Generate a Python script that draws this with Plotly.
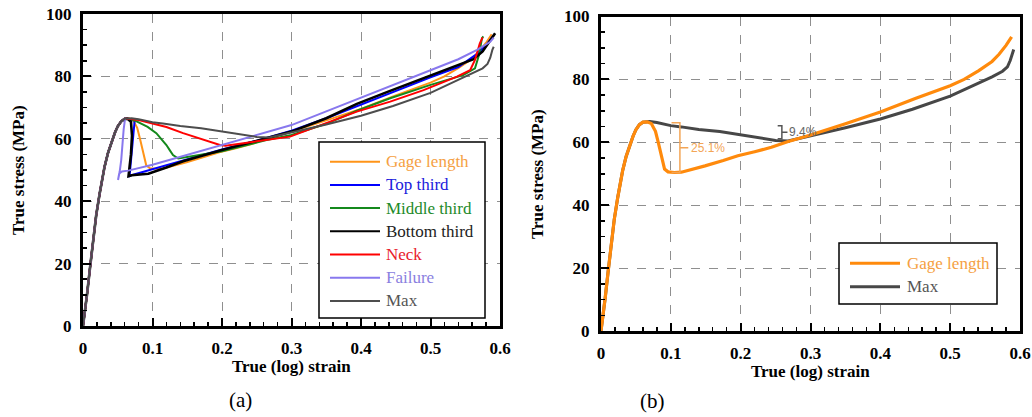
import plotly.graph_objects as go

# ---------------- data ----------------
# shared elastic branch (true strain, true stress MPa)
elastic_strain = [0.0, 0.003, 0.006, 0.010, 0.014, 0.019, 0.024, 0.031, 0.036, 0.041, 0.046, 0.050, 0.055, 0.060]
elastic_stress = [0.0, 4.5, 10.5, 18.5, 27.0, 35.5, 42.5, 51.0, 55.5, 59.0, 62.0, 64.0, 65.6, 66.4]

gage_post_strain = [0.066, 0.072, 0.078, 0.082, 0.0867, 0.091, 0.096, 0.105, 0.115, 0.13, 0.149, 0.175, 0.196,
                    0.22, 0.244, 0.267, 0.30, 0.35, 0.40, 0.45, 0.50, 0.52, 0.541, 0.56, 0.57, 0.58, 0.588]
gage_post_stress = [66.5, 66.0, 63.5, 60.0, 55.0, 51.5, 50.6, 50.4, 50.5, 51.3, 52.5, 54.2, 55.7,
                    57.0, 58.4, 60.2, 62.3, 65.9, 69.6, 73.9, 78.0, 80.0, 82.8, 85.7, 88.0, 90.8, 93.5]

top_post_strain = [0.064, 0.0743, 0.072, 0.0695, 0.0675, 0.067, 0.072, 0.10, 0.15, 0.20, 0.25, 0.30, 0.35,
                   0.40, 0.45, 0.50, 0.54, 0.567, 0.58, 0.592]
top_post_stress = [66.5, 65.8, 59.6, 53.2, 49.5, 48.0, 48.5, 50.3, 53.4, 56.6, 59.4, 62.6, 66.6,
                   71.0, 75.2, 79.7, 83.0, 87.2, 90.0, 93.5]

middle_post_strain = [0.066, 0.075, 0.0815, 0.093, 0.1055, 0.113, 0.12, 0.125, 0.1295, 0.137, 0.16, 0.20,
                      0.264, 0.30, 0.35, 0.394, 0.442, 0.499, 0.547, 0.564, 0.570, 0.574, 0.576]
middle_post_stress = [66.4, 65.8, 65.0, 63.8, 61.8, 60.0, 58.0, 56.3, 54.8, 53.7, 54.5, 56.0,
                      59.6, 61.2, 64.8, 69.0, 73.0, 77.2, 80.4, 82.6, 87.0, 92.2, 92.8]

bottom_post_strain = [0.064, 0.069, 0.0705, 0.069, 0.067, 0.0655, 0.070, 0.094, 0.12, 0.144, 0.20, 0.25,
                      0.30, 0.35, 0.394, 0.44, 0.49, 0.53, 0.562, 0.575, 0.585, 0.593]
bottom_post_stress = [66.4, 65.5, 61.0, 55.0, 50.5, 48.0, 48.3, 48.8, 50.8, 52.8, 56.4, 59.4,
                      62.3, 66.6, 71.2, 75.2, 79.4, 82.6, 85.5, 88.0, 91.0, 93.8]

neck_post_strain = [0.066, 0.08, 0.10, 0.12, 0.144, 0.16, 0.173, 0.187, 0.197, 0.205, 0.22, 0.25, 0.298,
                    0.346, 0.394, 0.442, 0.49, 0.538, 0.557, 0.564, 0.571, 0.575]
neck_post_stress = [66.4, 66.0, 65.0, 63.8, 61.8, 60.6, 59.6, 58.6, 58.0, 57.8, 58.2, 59.2, 60.7,
                    64.6, 68.7, 71.9, 75.6, 79.9, 82.0, 85.3, 90.6, 92.5]

failure_post_strain = [0.0605, 0.0585, 0.0576, 0.056, 0.055, 0.0528, 0.0504, 0.052, 0.056, 0.065, 0.10,
                       0.15, 0.20, 0.25, 0.30, 0.35, 0.40, 0.45, 0.50, 0.54, 0.567, 0.586, 0.591]
failure_post_stress = [66.4, 63.0, 59.6, 56.0, 53.2, 49.5, 46.8, 48.8, 49.5, 49.8, 51.7,
                       54.9, 58.1, 61.3, 64.4, 68.8, 73.2, 77.6, 82.0, 85.5, 88.5, 91.1, 92.4]

max_post_strain = [0.07, 0.08, 0.09, 0.10, 0.115, 0.14, 0.17, 0.20, 0.23, 0.25, 0.268, 0.28, 0.30, 0.35,
                   0.40, 0.446, 0.50, 0.541, 0.56, 0.575, 0.582, 0.586, 0.589, 0.591]
max_post_stress = [66.6, 66.3, 65.8, 65.3, 64.9, 64.1, 63.4, 62.4, 61.2, 60.6, 60.4, 61.0, 62.0, 64.6,
                   67.4, 70.5, 74.7, 78.9, 80.8, 82.6, 84.0, 86.0, 88.5, 89.5]

series_names = ["Gage length", "Top third", "Middle third", "Bottom third", "Neck", "Failure", "Max"]
series_post = [
    (gage_post_strain, gage_post_stress),
    (top_post_strain, top_post_stress),
    (middle_post_strain, middle_post_stress),
    (bottom_post_strain, bottom_post_stress),
    (neck_post_strain, neck_post_stress),
    (failure_post_strain, failure_post_stress),
    (max_post_strain, max_post_stress),
]

# drop annotations of panel (b): label, strain of bracket, upper and lower stress
drop_gage_label = "25.1%"
drop_gage_strain = 0.113
drop_gage_top = 66.2
drop_gage_bottom = 50.4
drop_max_label = "9.4%"
drop_max_strain = 0.259
drop_max_top = 65.3
drop_max_bottom = 61.1

# ---------------- styling ----------------
W, H = 1032, 417
line_colors = ["#ff9418", "#0000ff", "#14891c", "#000000", "#ff0000", "#8878ee", "#4d4d4d"]
text_colors = ["#f5a043", "#2020dc", "#1d8a2a", "#222222", "#e8202a", "#8a80e0", "#555555"]
line_widths = [2, 2, 2, 2.6, 2, 2, 2]
b_colors = {"Gage length": "#ff8a0c", "Max": "#474747"}

SERIF = "Liberation Serif"
SANS = "Liberation Sans"


def fx(p):
    return p / W


def fy(p):
    return 1 - p / H


fig = go.Figure()

# panel (a)
for name, (sx, sy), col, lw in zip(series_names, series_post, line_colors, line_widths):
    fig.add_trace(go.Scatter(
        x=elastic_strain + sx, y=elastic_stress + sy, mode="lines", name=name,
        line=dict(color=col, width=lw), xaxis="x", yaxis="y", showlegend=False))

# panel (b)
fig.add_trace(go.Scatter(
    x=elastic_strain + max_post_strain, y=elastic_stress + max_post_stress, mode="lines",
    name="Max", line=dict(color=b_colors["Max"], width=3), xaxis="x2", yaxis="y2", showlegend=False))
fig.add_trace(go.Scatter(
    x=elastic_strain + gage_post_strain, y=elastic_stress + gage_post_stress, mode="lines",
    name="Gage length", line=dict(color=b_colors["Gage length"], width=3.2), xaxis="x2", yaxis="y2",
    showlegend=False))


def axis(domain, anchor, rng, dtick, mdtick):
    return dict(
        domain=domain, anchor=anchor, range=rng, dtick=dtick, tick0=0, automargin=False,
        showline=True, linecolor="black", linewidth=3, mirror=True,
        ticks="inside", ticklen=8, tickwidth=2, tickcolor="black",
        minor=dict(ticks="inside", ticklen=4, tickwidth=1.5, tickcolor="black",
                   dtick=mdtick, tick0=0, showgrid=False),
        showgrid=True, gridcolor="#8f8f8f", gridwidth=1, griddash="dash",
        zeroline=False, fixedrange=True,
        tickfont=dict(family=SERIF, size=17, color="black", weight="bold"),
        ticklabelstandoff=5,
    )


xa = [fx(83), fx(500)]
ya = [fy(326), fy(14)]
xb = [fx(601), fx(1020)]
yb = [fy(331), fy(16.5)]

fig.update_layout(
    width=W, height=H, autosize=False,
    margin=dict(l=0, r=0, t=0, b=0, pad=0, autoexpand=False),
    paper_bgcolor="white", plot_bgcolor="white",
    showlegend=False,
    xaxis=axis(xa, "y", [0, 0.6], 0.1, 0.02),
    yaxis=axis(ya, "x", [0, 100], 20, 5),
    xaxis2=axis(xb, "y2", [0, 0.6], 0.1, 0.02),
    yaxis2=axis(yb, "x2", [0, 100], 20, 5),
)

annotations = []
shapes = []

title_font = dict(family=SERIF, size=17, color="black", weight="bold")
annotations += [
    dict(text="True (log) strain", x=fx(291.5), y=fy(366), xref="paper", yref="paper",
         showarrow=False, xanchor="center", yanchor="middle", font=title_font),
    dict(text="True (log) strain", x=fx(810), y=fy(371), xref="paper", yref="paper",
         showarrow=False, xanchor="center", yanchor="middle", font=title_font),
    dict(text="True stress (MPa)", x=fx(18), y=fy(170), xref="paper", yref="paper", textangle=-90,
         showarrow=False, xanchor="center", yanchor="middle", font=title_font),
    dict(text="True stress (MPa)", x=fx(537), y=fy(174), xref="paper", yref="paper", textangle=-90,
         showarrow=False, xanchor="center", yanchor="middle", font=title_font),
    dict(text="(a)", x=fx(240), y=fy(400), xref="paper", yref="paper", showarrow=False,
         xanchor="center", yanchor="middle", font=dict(family=SERIF, size=21, color="black")),
    dict(text="(b)", x=fx(652), y=fy(401), xref="paper", yref="paper", showarrow=False,
         xanchor="center", yanchor="middle", font=dict(family=SERIF, size=21, color="black")),
]


def legend(box, first_y, step, line_x0, line_x1, text_x, names, colors, lw):
    x0, y0, x1, y1 = box
    shapes.append(dict(type="rect", xref="paper", yref="paper", x0=fx(x0), x1=fx(x1), y0=fy(y0), y1=fy(y1),
                       line=dict(color="black", width=1.5), fillcolor="white", layer="above"))
    for k, name in enumerate(names):
        i = series_names.index(name)
        yy = first_y + k * step
        shapes.append(dict(type="line", xref="paper", yref="paper", x0=fx(line_x0), x1=fx(line_x1),
                           y0=fy(yy), y1=fy(yy), line=dict(color=colors[k], width=lw), layer="above"))
        annotations.append(dict(text=name, x=fx(text_x), y=fy(yy), xref="paper", yref="paper",
                                showarrow=False, xanchor="left", yanchor="middle",
                                font=dict(family=SERIF, size=17, color=text_colors[i])))


legend((319, 142, 485, 318), 161.7, 23.2, 330, 380, 384, series_names, line_colors, 2)
legend((839, 243, 997, 304), 263.3, 23.4, 850, 900, 905, ["Gage length", "Max"],
       [b_colors["Gage length"], b_colors["Max"]], 3)

# brackets in panel (b)
g_mid = (drop_gage_top + drop_gage_bottom) / 2
shapes.append(dict(type="path", xref="x2", yref="y2",
                   path=(f"M {drop_gage_strain - 0.012} {drop_gage_top} L {drop_gage_strain} {drop_gage_top} "
                         f"L {drop_gage_strain} {drop_gage_bottom} L {drop_gage_strain - 0.012} {drop_gage_bottom} "
                         f"M {drop_gage_strain} {g_mid} L {drop_gage_strain + 0.012} {g_mid}"),
                   line=dict(color="#f3a556", width=1.5), layer="above"))
annotations.append(dict(text=drop_gage_label, x=drop_gage_strain + 0.013, y=g_mid, xref="x2", yref="y2",
                        showarrow=False, xanchor="left", yanchor="middle",
                        font=dict(family=SANS, size=12, color="#f3a556")))
m_mid = (drop_max_top + drop_max_bottom) / 2
shapes.append(dict(type="path", xref="x2", yref="y2",
                   path=(f"M {drop_max_strain - 0.006} {drop_max_top} L {drop_max_strain} {drop_max_top} "
                         f"L {drop_max_strain} {drop_max_bottom} L {drop_max_strain - 0.006} {drop_max_bottom} "
                         f"M {drop_max_strain} {m_mid} L {drop_max_strain + 0.008} {m_mid}"),
                   line=dict(color="#555555", width=1.5), layer="above"))
annotations.append(dict(text=drop_max_label, x=drop_max_strain + 0.008, y=m_mid, xref="x2", yref="y2",
                        showarrow=False, xanchor="left", yanchor="middle",
                        font=dict(family=SANS, size=12, color="#666666")))

fig.update_layout(annotations=annotations, shapes=shapes)
fig.write_html("out.html", config={"displayModeBar": False, "staticPlot": True},
               post_script="document.body.style.margin='0';document.body.style.overflow='hidden';")
